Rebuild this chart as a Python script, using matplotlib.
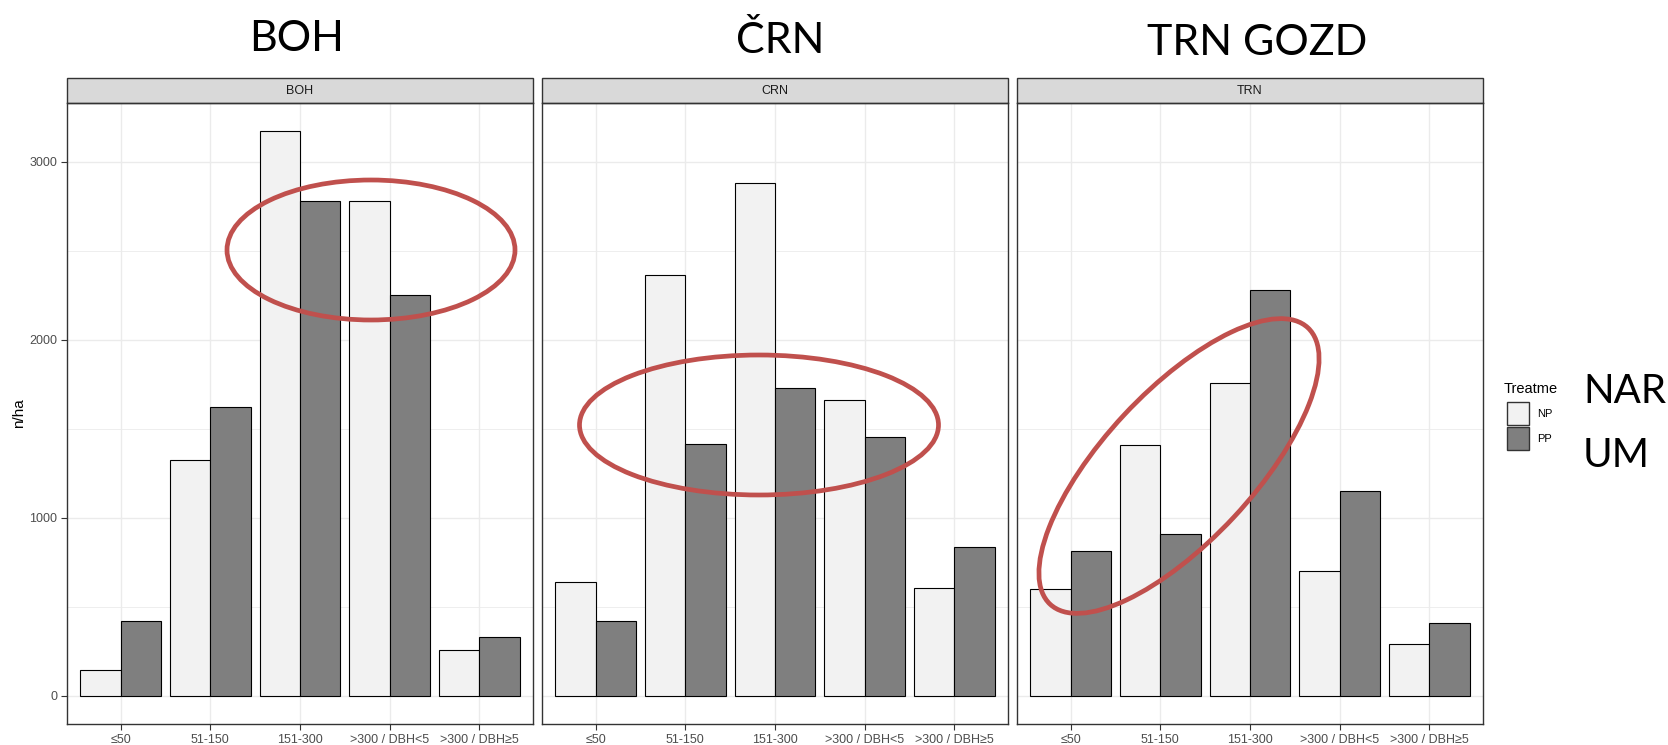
import numpy as np
import matplotlib.pyplot as plt
from matplotlib.patches import Rectangle, Ellipse

# data (n/ha)
categories = ["≤50", "51-150", "151-300", ">300 / DBH<5", ">300 / DBH≥5"]
sites = ["BOH", "CRN", "TRN"]
big_titles = ["BOH", "ČRN", "TRN GOZD"]
treatments = ["NP", "PP"]
boh_np = [145, 1322, 3170, 2781, 258]
boh_pp = [420, 1621, 2777, 2249, 330]
crn_np = [641, 2362, 2882, 1659, 605]
crn_pp = [420, 1414, 1730, 1451, 838]
trn_np = [599, 1408, 1755, 700, 288]
trn_pp = [815, 908, 2279, 1148, 408]
side_labels = ["NAR", "UM"]

np_values = [boh_np, crn_np, trn_np]
pp_values = [boh_pp, crn_pp, trn_pp]

NP_COL = "#F2F2F2"
PP_COL = "#7F7F7F"
GRID = "#EBEBEB"
BORDER = "#333333"
RED = "#C0504D"
TICK_FONT = ["Liberation Sans", "DejaVu Sans"]
BIG_FONT = ["Lato", "DejaVu Sans"]

W, H = 1668, 745


def fx(x):
    return x / W


def fy(y):
    # reference pixel rows count from the top
    return 1 - y / H


fig = plt.figure(figsize=(W / 100, H / 100), dpi=100)

# panel geometry in pixels
panel_left = [67, 542, 1017]
panel_w = 466
panel_top, panel_bottom = 103, 724
strip_h = 25

ymax = max(max(v) for v in np_values + pp_values)
x = np.arange(1, len(categories) + 1)

axes = []
for i, site in enumerate(sites):
    ax = fig.add_axes([fx(panel_left[i]), fy(panel_bottom), panel_w / W,
                       (panel_bottom - panel_top) / H])
    ax.bar(x - 0.225, np_values[i], width=0.45, color=NP_COL,
           edgecolor="black", linewidth=0.8, zorder=3)
    ax.bar(x + 0.225, pp_values[i], width=0.45, color=PP_COL,
           edgecolor="black", linewidth=0.8, zorder=3)

    ax.set_xlim(0.4, len(categories) + 0.6)
    ax.set_ylim(-0.05 * ymax, 1.05 * ymax)
    ax.set_xticks(x)
    ax.set_xticklabels(categories, family=TICK_FONT, fontsize=9, color="#4D4D4D")
    ax.set_yticks([0, 1000, 2000, 3000])
    ax.set_yticks([500, 1500, 2500], minor=True)
    ax.grid(which="major", color=GRID, linewidth=1.0, zorder=0)
    ax.grid(which="minor", axis="y", color=GRID, linewidth=0.6, zorder=0)
    ax.set_axisbelow(True)
    ax.tick_params(axis="x", length=4, color=BORDER, pad=3)
    ax.tick_params(axis="y", which="minor", length=0)
    if i == 0:
        ax.tick_params(axis="y", length=4, color=BORDER, pad=3)
        for lab in ax.get_yticklabels():
            lab.set_family(TICK_FONT)
            lab.set_fontsize(9)
            lab.set_color("#4D4D4D")
        ax.set_ylabel("n/ha", family=TICK_FONT, fontsize=11, labelpad=2)
    else:
        ax.tick_params(axis="y", left=False, labelleft=False)
    for sp in ax.spines.values():
        sp.set_color(BORDER)
        sp.set_linewidth(1.0)

    # facet strip
    sh = strip_h / (panel_bottom - panel_top)
    ax.add_patch(Rectangle((0, 1), 1, sh, transform=ax.transAxes, clip_on=False,
                           facecolor="#D9D9D9", edgecolor=BORDER, linewidth=1.0))
    ax.text(0.5, 1 + sh / 2, site, transform=ax.transAxes, ha="center", va="center",
            family=TICK_FONT, fontsize=9, color="#1A1A1A")
    axes.append(ax)

# big titles above the panels
title_x = [297, 780, 1257]
title_base = [51, 53, 55]
for t, tx, ty in zip(big_titles, title_x, title_base):
    fig.text(fx(tx), fy(ty), t, ha="center", va="baseline", family=BIG_FONT,
             fontsize=31, color="black")

# legend, drawn by hand
fig.text(fx(1504), fy(393), "Treatment", ha="left", va="baseline",
         family=TICK_FONT, fontsize=10.5, color="black")
for j, (lab, col) in enumerate(zip(treatments, [NP_COL, PP_COL])):
    top = 402 + j * 25
    fig.add_artist(Rectangle((fx(1507), fy(top + 23)), 22 / W, 23 / H,
                             transform=fig.transFigure, facecolor=col,
                             edgecolor=BORDER, linewidth=1.0))
    fig.text(fx(1537), fy(top + 12), lab, ha="left", va="center",
             family=TICK_FONT, fontsize=8, color="black")

# white box with the side label cuts the legend title short
fig.add_artist(Rectangle((fx(1557), fy(480)), (W - 1557) / W, 140 / H,
                         transform=fig.transFigure, facecolor="white",
                         edgecolor="none", zorder=5))
for lab, base in zip(side_labels, [403, 467]):
    fig.text(fx(1583), fy(base), lab, ha="left", va="baseline", family=BIG_FONT,
             fontsize=29, color="black", zorder=6)

# red highlight ellipses (centre x, centre y, width, height, angle) in pixels
highlights = [(371, 250, 288, 140, 0), (759, 425, 359, 140, 0),
              (1179, 466, 378, 150, 47)]
for cx, cy, w, h, ang in highlights:
    fig.add_artist(Ellipse((cx / 100, (H - cy) / 100), w / 100, h / 100, angle=ang,
                           transform=fig.dpi_scale_trans, fill=False,
                           edgecolor=RED, linewidth=3.4, zorder=10))

fig.savefig("out.png", dpi=100)
